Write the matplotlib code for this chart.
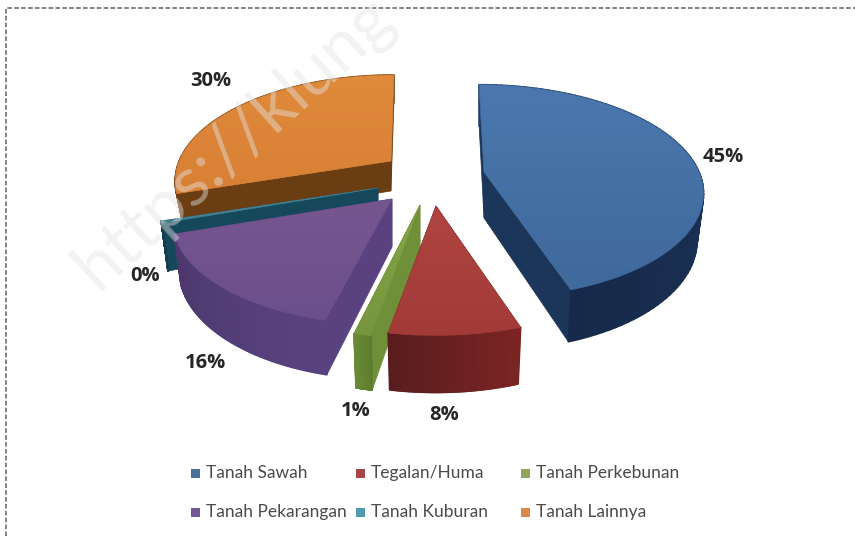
import numpy as np
import matplotlib
matplotlib.use("Agg")
import matplotlib.pyplot as plt
from matplotlib.collections import PolyCollection
from matplotlib.colors import to_rgb, LinearSegmentedColormap
from matplotlib.patches import Polygon, Rectangle

# ---- data ----
categories = ["Tanah Sawah", "Tegalan/Huma", "Tanah Perkebunan",
              "Tanah Pekarangan", "Tanah Kuburan", "Tanah Lainnya"]
shares = [45, 8, 1, 16, 0.3, 30]
share_labels = ["45%", "8%", "1%", "16%", "0%", "30%"]

# ---- styling / layout ----
apex_x = [484, 436, 420, 392, 378, 391]
apex_y = [172, 206, 205, 199, 188, 161]
scale = [1.0, 1.03, 1.06, 1.0, 1.0, 0.985]
skew = [5, 0, 0, -5, 0, -3]
depth = [46, 50, 48, 48, 46, 30]
top_hi = ["#4A78AE", "#B04440", "#86A648", "#76568F", "#4E93A6", "#E08A3C"]
top_lo = ["#40699C", "#A23B38", "#76953D", "#6B4F8C", "#44808F", "#D88034"]
wall_a = ["#203F68", "#7C2424", "#5E7C2E", "#5A4280", "#17495C", "#6E3F14"]
wall_b = ["#16294A", "#5A1D1D", "#6A8A36", "#4C386C", "#123E4E", "#6E3F14"]
cut_c = ["#1B3659", "#6B2222", "#6F9038", "#5A4280", "#15485A", "#6B3D12"]
legend_c = ["#4A7199", "#A5464A", "#8FA65C", "#6F5A97", "#4F9AB0", "#DB8A4A"]
label_xy = [(723, 157), (444, 415), (356, 411), (205, 363), (145, 276), (211, 81)]
legend_col = [191, 356, 521]
legend_row = [473, 512]
draw_order = [5, 4, 3, 2, 1, 0]
RX, RY, K = 215.0, 103.0, 0.18

fig = plt.figure(figsize=(8.55, 5.36), dpi=100, facecolor="white")
ax = fig.add_axes([0, 0, 1, 1])
ax.set_xlim(0, 855)
ax.set_ylim(536, 0)
ax.axis("off")


def project(i, t):
    """screen offset of a rim point at clockwise angle t from the back of the pie"""
    x, y = np.sin(t), np.cos(t)
    s = 1.0 / (1.0 + K * y)
    return (RX * scale[i] * x * s - skew[i] * y, -RY * scale[i] * y * s, s)


def mix(a, b, f):
    a, b = np.array(to_rgb(a)), np.array(to_rgb(b))
    return a + (b - a) * f


edges = np.radians(np.concatenate([[0], np.cumsum(shares)]) / np.sum(shares) * 360)

for i in draw_order:
    z = 2 + draw_order.index(i)
    ax0, ay0 = apex_x[i], apex_y[i]
    t = np.linspace(edges[i], edges[i + 1], 90)
    dx, dy, s = project(i, t)
    d = depth[i]
    # cut faces
    for k in (0, -1):
        face = [(ax0, ay0), (ax0 + dx[k], ay0 + dy[k]),
                (ax0 + .97 * dx[k], ay0 + .97 * dy[k] + d * s[k]), (ax0, ay0 + d)]
        ax.add_patch(Polygon(face, closed=True, fc=cut_c[i], ec=cut_c[i], lw=0.5, zorder=z))
    # outer wall
    quads, cols = [], []
    for j in range(len(t) - 1):
        quads.append([(ax0 + dx[j], ay0 + dy[j]), (ax0 + dx[j + 1], ay0 + dy[j + 1]),
                      (ax0 + .97 * dx[j + 1], ay0 + .97 * dy[j + 1] + d * s[j + 1]),
                      (ax0 + .97 * dx[j], ay0 + .97 * dy[j] + d * s[j])])
        cols.append(mix(wall_a[i], wall_b[i], j / (len(t) - 2)))
    ax.add_collection(PolyCollection(quads, facecolors=cols, edgecolors=cols,
                                     linewidths=1.2, zorder=z + 0.1))
    # top face with a soft gradient
    verts = [(ax0, ay0)] + list(zip(ax0 + dx, ay0 + dy))
    poly = Polygon(verts, closed=True, fc="none", ec=top_lo[i], lw=0.5, zorder=z + 0.5)
    ax.add_patch(poly)
    xs, ys = zip(*verts)
    cmap = LinearSegmentedColormap.from_list("g", [top_hi[i], top_lo[i]])
    im = ax.imshow(np.linspace(0, 1, 64).reshape(-1, 1), cmap=cmap, aspect="auto",
                   extent=(min(xs), max(xs), max(ys), min(ys)), zorder=z + 0.4)
    im.set_clip_path(poly)

ax.set_xlim(0, 855)
ax.set_ylim(536, 0)

# data labels
for (x, y), lab in zip(label_xy, share_labels):
    ax.text(x, y, lab, ha="center", va="center", fontsize=14.5, fontweight="bold",
            family="Open Sans", color="#262626", zorder=20)

# legend
for n, name in enumerate(categories):
    x = legend_col[n % 3]
    y = legend_row[n // 3]
    ax.add_patch(Rectangle((x, y - 4.5), 9, 9, fc=legend_c[n], ec="none", zorder=20))
    ax.text(x + 15, y, name, ha="left", va="center", fontsize=12.5, family="Lato",
            color="#4a4a4a", zorder=20)

# dashed frame
ax.plot([6, 6, 855], [536, 8, 8], color="#606060", lw=1.1, ls=(0, (3, 1.5)),
        zorder=21, clip_on=True)

# faint watermark
ax.text(97, 292, "https://klung", rotation=42, rotation_mode="anchor",
        ha="left", va="baseline", fontsize=50, family="Lato", fontweight="normal",
        color="#e4e4e4", alpha=0.45, zorder=25, clip_on=True)

fig.savefig("out.png", dpi=100)
